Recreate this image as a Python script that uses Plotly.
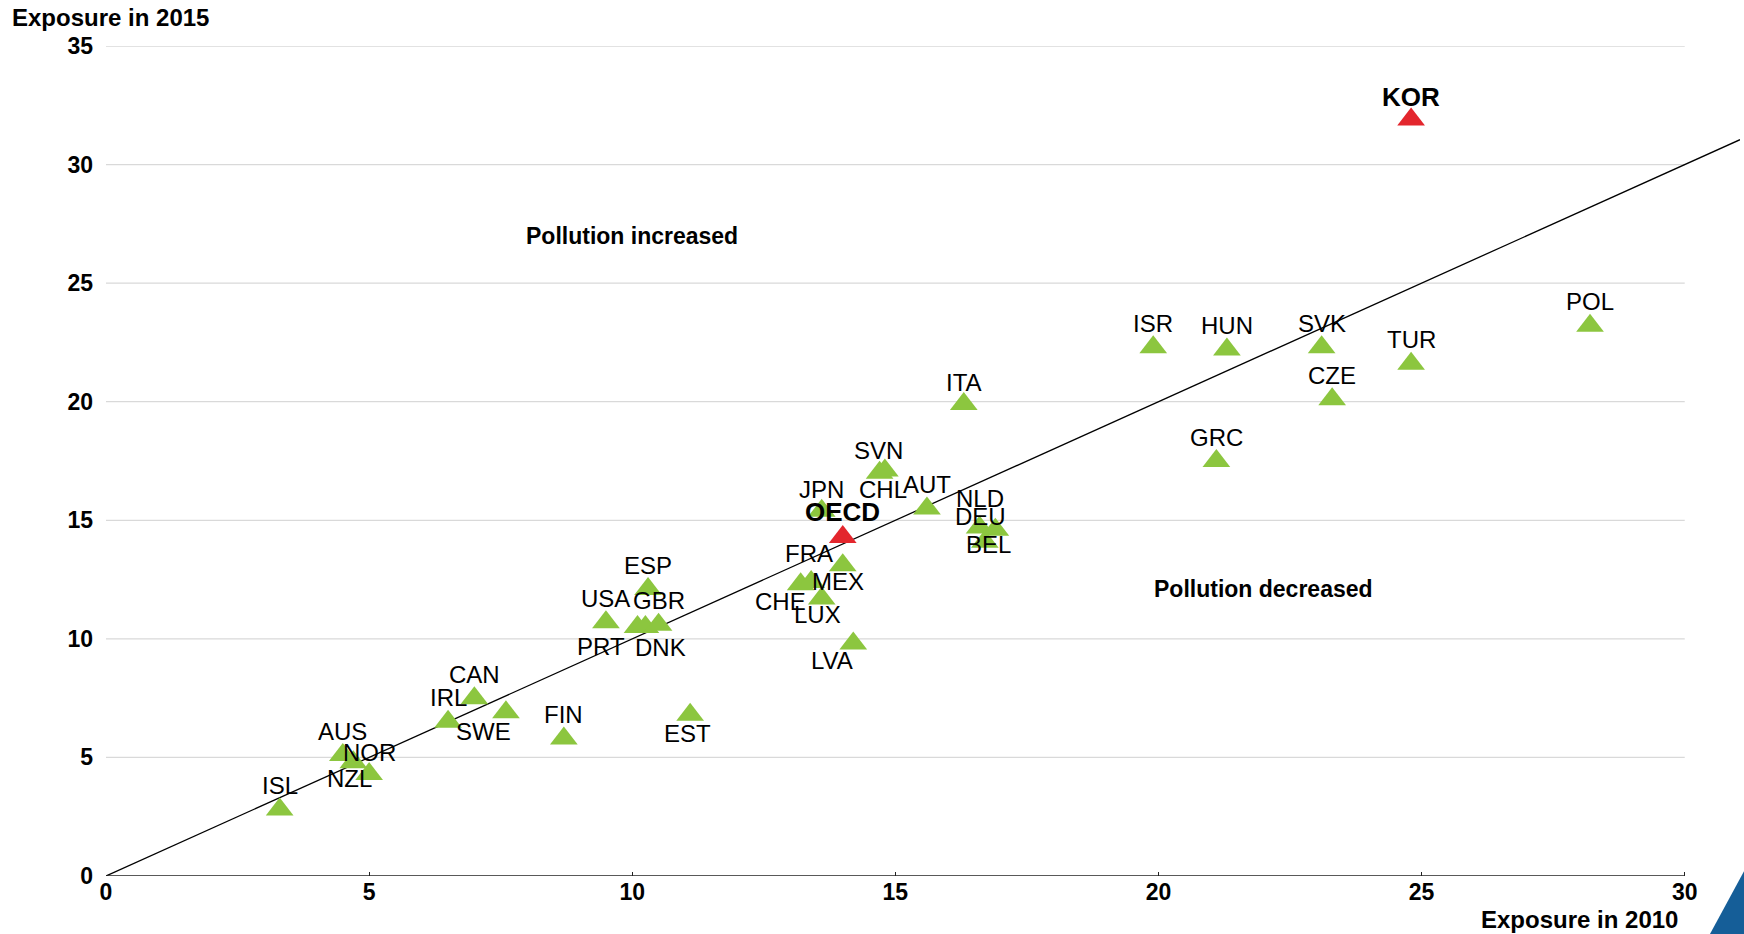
import plotly.graph_objects as go

# ---- data ----
countries = ["ISL", "AUS", "NOR", "NZL", "IRL", "CAN", "SWE", "FIN", "USA", "PRT",
             "DNK", "GBR", "ESP", "EST", "CHE", "FRA", "JPN", "LUX", "MEX", "OECD",
             "LVA", "CHL", "SVN", "AUT", "NLD", "DEU", "BEL", "ITA", "ISR", "GRC",
             "HUN", "SVK", "CZE", "TUR", "KOR", "POL"]
exposure_2010 = [3.3, 4.5, 4.7, 5.0, 6.5, 7.0, 7.6, 8.7, 9.5, 10.1,
                 10.25, 10.5, 10.3, 11.1, 13.2, 13.4, 13.6, 13.6, 14.0, 14.0,
                 14.2, 14.7, 14.8, 15.6, 16.6, 16.9, 16.7, 16.3, 19.9, 21.1,
                 21.3, 23.1, 23.3, 24.8, 24.8, 28.2]
exposure_2015 = [2.8, 5.1, 4.8, 4.3, 6.5, 7.5, 6.9, 5.8, 10.7, 10.5,
                 10.5, 10.6, 12.1, 6.8, 12.3, 12.4, 15.4, 11.7, 13.1, 14.3,
                 9.8, 17.0, 17.1, 15.5, 14.7, 14.6, 14.1, 19.9, 22.3, 17.5,
                 22.2, 22.3, 20.1, 21.6, 31.9, 23.2]
highlighted = ["KOR", "OECD"]
diag_end = 31.05
x_ticks = [0, 5, 10, 15, 20, 25, 30]
y_ticks = [0, 5, 10, 15, 20, 25, 30, 35]
region_labels = ["Pollution increased", "Pollution decreased"]
region_x = [10.0, 22.0]
region_y = [27.0, 12.1]

# ---- styles ----
FONT = "Liberation Sans, Arial, sans-serif"
GREEN = "#8cc63f"
RED = "#e3262d"
# label offsets in pixels (xshift, yshift); default is just above the marker
label_offsets = {
    "NOR": (16, 10), "NZL": (-20, -4), "SWE": (-22, -19), "EST": (-3, -19),
    "PRT": (-37, -19), "DNK": (15, -20), "CHE": (-20, -17), "FRA": (-2, 28),
    "JPN": (0, 21), "LUX": (-4, -16), "MEX": (-5, -16), "OECD": (0, 25),
    "LVA": (-21, -17), "CHL": (3, -17), "SVN": (-6, 20), "NLD": (0, 29),
    "DEU": (-15, 13), "BEL": (4, -3), "ITA": (0, 22), "KOR": (0, 23),
}
default_offset = (0, 24)

fig = go.Figure()

# 45-degree reference line
fig.add_trace(go.Scatter(x=[0, diag_end], y=[0, diag_end], mode="lines",
                         line=dict(color="black", width=1.3), hoverinfo="skip",
                         showlegend=False))

reg_x = [x for c, x in zip(countries, exposure_2010) if c not in highlighted]
reg_y = [y for c, y in zip(countries, exposure_2015) if c not in highlighted]
hi_x = [x for c, x in zip(countries, exposure_2010) if c in highlighted]
hi_y = [y for c, y in zip(countries, exposure_2015) if c in highlighted]

fig.add_trace(go.Scatter(x=reg_x, y=reg_y, mode="markers",
                         marker=dict(symbol="triangle-up", size=24, color=GREEN,
                                     line=dict(width=0)),
                         showlegend=False, cliponaxis=False))
fig.add_trace(go.Scatter(x=hi_x, y=hi_y, mode="markers",
                         marker=dict(symbol="triangle-up", size=24, color=RED,
                                     line=dict(width=0)),
                         showlegend=False, cliponaxis=False))

annotations = []
for c, x, y in zip(countries, exposure_2010, exposure_2015):
    dx, dy = label_offsets.get(c, default_offset)
    bold = c in highlighted
    annotations.append(dict(
        x=x, y=y, xref="x", yref="y", text=c, showarrow=False,
        xshift=dx, yshift=dy, xanchor="center", yanchor="middle",
        font=dict(family=FONT, size=26 if bold else 24, color="black",
                  weight="bold" if bold else "normal")))

for t, x, y in zip(region_labels, region_x, region_y):
    annotations.append(dict(x=x, y=y, xref="x", yref="y", text=t, showarrow=False,
                            xanchor="center", yanchor="middle",
                            font=dict(family=FONT, size=23, color="black", weight="bold")))

annotations.append(dict(x=-0.0587, y=1.0349, xref="paper", yref="paper",
                        text="Exposure in 2015", showarrow=False, xanchor="left",
                        yanchor="middle",
                        font=dict(family=FONT, size=24, color="black", weight="bold")))
annotations.append(dict(x=0.9633, y=-0.052, xref="paper", yref="paper",
                        text="Exposure in 2010", showarrow=False, xanchor="right",
                        yanchor="middle",
                        font=dict(family=FONT, size=24, color="black", weight="bold")))

shapes = []
for v in y_ticks[1:]:
    shapes.append(dict(type="line", xref="x", yref="y", x0=0, x1=30, y0=v, y1=v,
                       line=dict(color="#d9d9d9", width=1.3), layer="below"))
shapes.append(dict(type="line", xref="x", yref="y", x0=0, x1=30, y0=0, y1=0,
                   line=dict(color="#222222", width=1.6), layer="above"))
# corner decoration
shapes.append(dict(type="path", xref="paper", yref="paper",
                   path="M 0.9816,-0.07 L 1.0025,0.006 L 1.0025,-0.07 Z",
                   fillcolor="#155e98", line=dict(width=0)))

fig.update_layout(
    width=1744, height=934,
    margin=dict(l=106, r=4, t=46, b=58),
    paper_bgcolor="white", plot_bgcolor="white",
    showlegend=False,
    annotations=annotations,
    shapes=shapes,
    xaxis=dict(range=[0, diag_end], tickvals=x_ticks, ticktext=[str(v) for v in x_ticks],
               showgrid=False, zeroline=False, showline=False,
               ticks="inside", ticklen=4, tickwidth=1.3, tickcolor="#222222",
               tickfont=dict(family=FONT, size=23, color="black", weight="bold"),
               ticklabelstandoff=0, fixedrange=True),
    yaxis=dict(range=[0, 35], tickvals=y_ticks, ticktext=[str(v) for v in y_ticks],
               showgrid=False, zeroline=False, showline=False, ticks="",
               tickfont=dict(family=FONT, size=23, color="black", weight="bold"),
               ticklabelstandoff=12, fixedrange=True),
)

fig.write_html("out.html",
               config={"displayModeBar": False},
               post_script="document.body.style.margin='0px';"
                           "document.body.style.overflow='hidden';")
